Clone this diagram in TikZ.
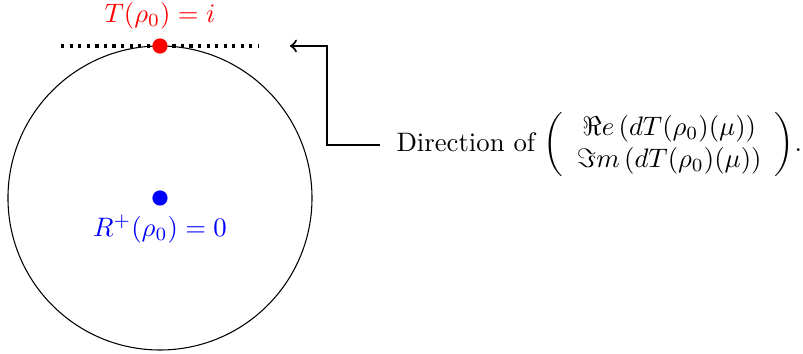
\documentclass[tikz,border=0pt]{standalone}
\usepackage{amsmath}
\begin{document}
\begin{tikzpicture}
    \useasboundingbox (-2.105,-2.05) rectangle (8.46,2.605);
    % unit circle
    \draw (0,0) circle (2);

    % tangent line at the top
    \draw[very thick, dotted] (-1.3,2) -- (1.3,2);
    \fill[red] (0,2) circle (0.1);
    \node[red, above] (T) at (0,2.1) {$T(\rho_0) = i$};

    % center point
    \fill[blue] (0,0) circle (0.1);
    \node[blue, below] (R) at (0,-0.1) {$R^+(\rho_0) = 0$};

    % direction label and its arrow
    \node[anchor=west, outer sep=3pt] (dir) at (2.89,0.7) {Direction of $\left(\begin{array}{c} \Re e\left(dT(\rho_0)(\mu)\right)\\ \Im m\left(dT(\rho_0)(\mu)\right) \end{array}\right)$.};
    \coordinate (tip) at (1.71,2);
    \draw[->, thick] (dir.west) -- ++(-0.69,0) |- (tip);
\end{tikzpicture}
\end{document}
